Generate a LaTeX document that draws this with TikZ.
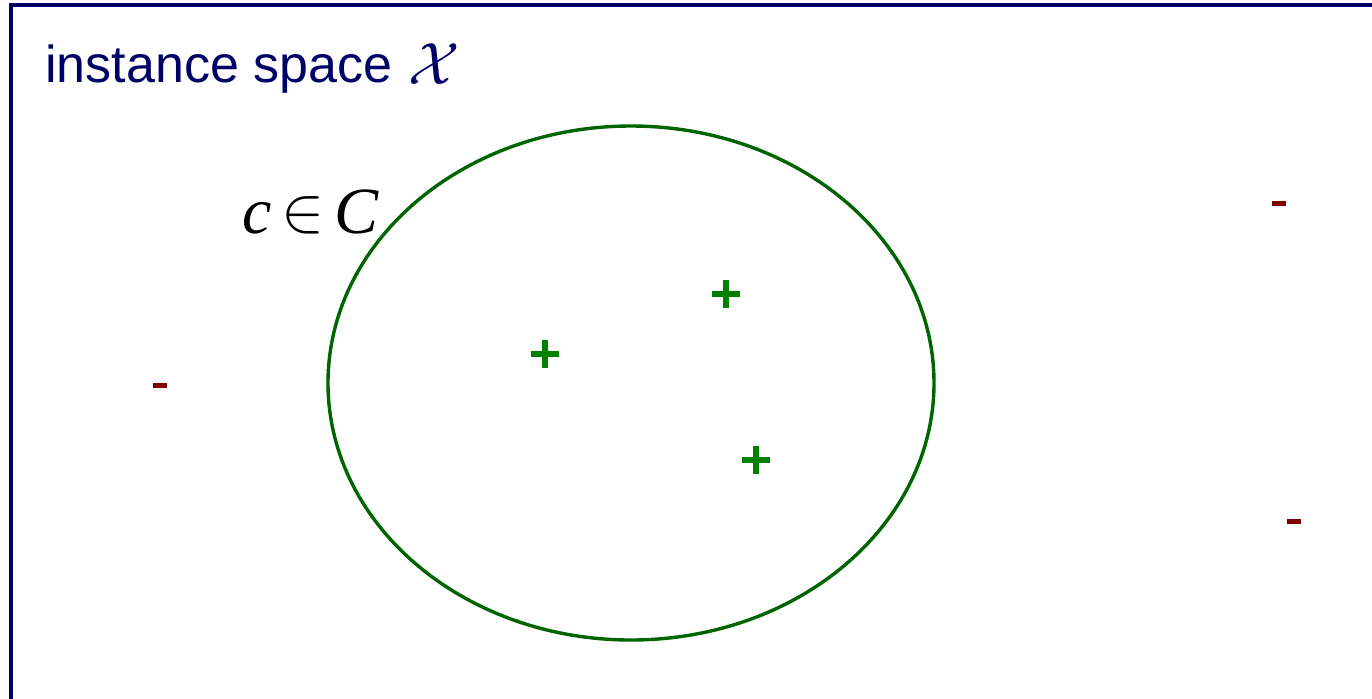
\documentclass[tikz,border=0pt]{standalone}
\usepackage{fontspec}
\usepackage{graphicx}
\usetikzlibrary{calc}
\setmainfont{Liberation Serif}
\newfontfamily\arialf{Liberation Sans}
\definecolor{navy}{RGB}{0,0,102}
\definecolor{ellgreen}{RGB}{0,100,0}
\definecolor{plusgreen}{RGB}{0,128,0}
\definecolor{minusred}{RGB}{128,0,0}
\begin{document}
\begin{tikzpicture}[x=0.5pt,y=-0.5pt,
  plusmark/.style={draw=plusgreen,line width=2.8pt},
  minusmark/.style={fill=minusred,draw=none}]
\useasboundingbox (0,0) rectangle (1372,698);
\begin{scope}
\clip (0,0) rectangle (1372,698);
\draw[navy,line width=2pt] (11,5) rectangle (1400,720);
\end{scope}
\node[anchor=base west,inner sep=0pt,text=navy,font=\arialf\fontsize{26pt}{30pt}\selectfont] (title) at (45,82) {instance space\hspace{8pt}\raisebox{-1pt}{\scalebox{1.2}{$\mathcal{X}$}}};
\node[anchor=base west,inner sep=0pt,font=\fontsize{33pt}{40pt}\selectfont] (clabel) at (242,233) {\textit{c}\hspace{5pt}\raisebox{1pt}{\scalebox{1.3}{$\in$}}\hspace{5pt}\textit{C}};
\draw[ellgreen,line width=1.7pt] (631,383) ellipse [x radius=303, y radius=257];
\foreach \n/\x/\y in {p1/545/354, p2/726/294, p3/756/460}{
  \coordinate (\n) at (\x,\y);
  \draw[plusmark] ($(\n)+(-14,0)$) -- ($(\n)+(14,0)$);
  \draw[plusmark] ($(\n)+(0,-14)$) -- ($(\n)+(0,14)$);
}
\foreach \n/\x/\y in {m1/160/385, m2/1279/203, m3/1294/521}{
  \coordinate (\n) at (\x,\y);
  \fill[minusmark] ([shift={(-7,-2.5)}]\n) rectangle ([shift={(7,2.5)}]\n);
}
\end{tikzpicture}
\end{document}
